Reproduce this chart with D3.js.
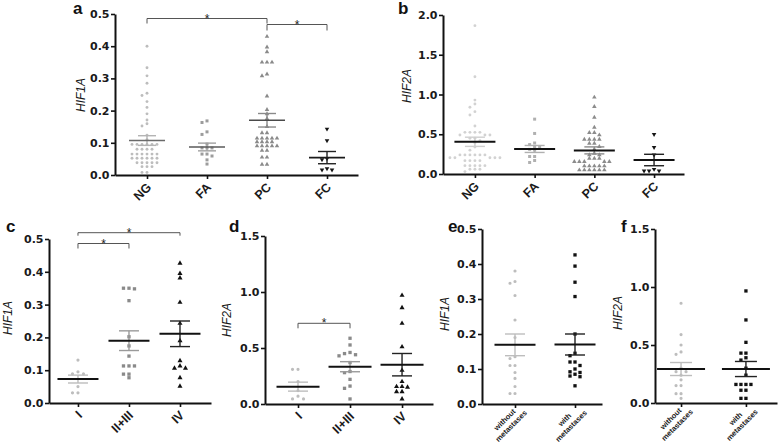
<!DOCTYPE html>
<html><head><meta charset="utf-8">
<script src="https://cdn.jsdelivr.net/npm/d3@7"></script>
<style>body{margin:0;background:#fff}svg{display:block}</style>
</head><body>
<svg id="chart" width="778" height="446"></svg>
<script>
// ---------- DATA ----------
const catsTissue = ["NG", "FA", "PC", "FC"];
const catsStage = ["I", "II+III", "IV"];
const catsMet = ["without\nmetastases", "with\nmetastases"];

// panel a – HIF1A by tissue
const hif1aNG = [0.40, 0.333, 0.308, 0.285, 0.254, 0.247, 0.228, 0.21, 0.19, 0.171, 0.159, 0.152, 0.124, 0.11,
  0.095, 0.095, 0.095, 0.095, 0.095, 0.095, 0.08, 0.08, 0.08, 0.08, 0.065, 0.065, 0.065, 0.065, 0.065, 0.065,
  0.052, 0.052, 0.052, 0.052, 0.052, 0.052, 0.038, 0.038, 0.038, 0.038, 0.038, 0.026, 0.026, 0.026, 0.008, 0.008];
const hif1aFA = [0.168, 0.163, 0.134, 0.126, 0.096, 0.084, 0.084, 0.084, 0.065, 0.065, 0.059, 0.047, 0.034];
const hif1aPC = [0.43, 0.397, 0.382, 0.35, 0.35, 0.35, 0.313, 0.308, 0.245, 0.203, 0.19, 0.175, 0.15,
  0.131, 0.131, 0.114, 0.114, 0.114, 0.114, 0.114, 0.103, 0.103, 0.103, 0.103, 0.09, 0.09, 0.09, 0.09, 0.09,
  0.076, 0.076, 0.055, 0.055, 0.033, 0.033];
const hif1aFC = [0.143, 0.107, 0.051, 0.048, 0.02, 0.016, 0.016];
const meanA = [0.107, 0.087, 0.17, 0.054];
const semA = [0.015, 0.012, 0.021, 0.019];

// panel b – HIF2A by tissue
const hif2aNG = [1.866, 1.224, 0.93, 0.88, 0.839, 0.784, 0.742, 0.604, 0.524, 0.524, 0.524, 0.524, 0.49, 0.49, 0.49,
  0.45, 0.45, 0.42, 0.39, 0.34, 0.3, 0.24, 0.24, 0.24, 0.24, 0.24, 0.24, 0.205, 0.205, 0.205, 0.205, 0.205,
  0.168, 0.168, 0.168, 0.168, 0.105, 0.105, 0.105, 0.105, 0.105, 0.06, 0.06, 0.06, 0.03];
const hif2aFA = [0.69, 0.51, 0.39, 0.37, 0.345, 0.345, 0.31, 0.3, 0.22, 0.22, 0.17, 0.145];
const hif2aPC = [0.965, 0.847, 0.713, 0.587, 0.52, 0.52, 0.49, 0.436, 0.436, 0.436, 0.436, 0.386, 0.386, 0.344, 0.31,
  0.26, 0.24, 0.24, 0.197, 0.197, 0.197, 0.155, 0.155, 0.155, 0.155, 0.155, 0.1, 0.1, 0.1, 0.1, 0.1,
  0.05, 0.05, 0.05, 0.05, 0.05, 0.05];
const hif2aFC = [0.5, 0.336, 0.24, 0.06, 0.04, 0.04, 0.04];
const meanB = [0.405, 0.315, 0.297, 0.176];
const semB = [0.058, 0.044, 0.044, 0.072];

// panel c – HIF1A by stage
const hif1aStI = [0.131, 0.095, 0.089, 0.089, 0.05, 0.031, 0.031];
const hif1aStII = [0.35, 0.35, 0.348, 0.312, 0.202, 0.174, 0.143, 0.113, 0.113, 0.113, 0.088, 0.088, 0.077];
const hif1aStIV = [0.426, 0.395, 0.381, 0.307, 0.243, 0.19, 0.129, 0.113, 0.106, 0.106, 0.077, 0.051];
const meanC = [0.073, 0.19, 0.211];
const semC = [0.012, 0.03, 0.039];

// panel d – HIF2A by stage
const hif2aStI = [0.31, 0.31, 0.2, 0.12, 0.07, 0.045, 0.045];
const hif2aStII = [0.587, 0.527, 0.46, 0.45, 0.44, 0.43, 0.37, 0.29, 0.28, 0.22, 0.16, 0.14, 0.045];
const hif2aStIV = [0.97, 0.86, 0.72, 0.51, 0.3, 0.2, 0.155, 0.155, 0.15, 0.11, 0.11, 0.045];
const meanD = [0.155, 0.333, 0.351];
const semD = [0.04, 0.045, 0.1];

// panel e – HIF1A by metastases
const hif1aNoMet = [0.38, 0.35, 0.345, 0.31, 0.24, 0.19, 0.135, 0.13, 0.11, 0.11, 0.09, 0.073, 0.05, 0.03, 0.03];
const hif1aMet = [0.426, 0.394, 0.348, 0.307, 0.2, 0.145, 0.138, 0.12, 0.12, 0.11, 0.1, 0.092, 0.09, 0.085, 0.08, 0.078, 0.052];
const meanE = [0.169, 0.17];
const semE = [0.031, 0.03];

// panel f – HIF2A by metastases
const hif2aNoMet = [0.86, 0.59, 0.5, 0.44, 0.42, 0.3, 0.27, 0.27, 0.24, 0.2, 0.15, 0.15, 0.08, 0.08, 0.04];
const hif2aMet = [0.966, 0.716, 0.523, 0.43, 0.43, 0.39, 0.37, 0.3, 0.24, 0.16, 0.16, 0.16, 0.16, 0.11, 0.11, 0.04, 0.04];
const meanF = [0.293, 0.293];
const semF = [0.056, 0.065];

const ticksSmall = [0, 0.1, 0.2, 0.3, 0.4, 0.5];
const ticksB = [0, 0.5, 1.0, 1.5, 2.0];
const ticksMid = [0, 0.5, 1.0, 1.5];

// ---------- LAYOUT ----------
const panels = [
  {letter:"a", lx:73, ly:14, ylab:"HIF1A", yx:81, yy:95, cats:catsTissue, series:[hif1aNG,hif1aFA,hif1aPC,hif1aFC],
   mean:meanA, sem:semA, domain:[0,0.5], ticks:ticksSmall, ox:115, x1:358, y0:175, y1:14, pad:0.525, align:0.508,
   shapes:["circle","square","tri","tridown"], fills:["#bdbdbd","#9c9c9c","#8a8a8a","#151515"],
   meanCol:["#6a6a6a","#5a5a5a","#4a4a4a","#1a1a1a"], semCol:["#b4b4b4","#a0a0a0","#8a8a8a","#222"],
   meanW:36, capW:18, meanSW:1.6, step:5, thr:3.4, size:{circle:6.5,square:9,tri:9},
   labelFont:12.5, brackets:[{a:"NG",b:"PC",y:18.5,d:5},{a:"PC",b:"FC",y:24.5,d:6}]},
  {letter:"b", lx:398, ly:14, ylab:"HIF2A", yx:407, yy:86, cats:catsTissue, series:[hif2aNG,hif2aFA,hif2aPC,hif2aFC],
   mean:meanB, sem:semB, domain:[0,2], ticks:ticksB, ox:443, x1:684, y0:174, y1:15, pad:0.518, align:0.516,
   shapes:["circle","square","tri","tridown"], fills:["#d2d2d2","#b0b0b0","#8c8c8c","#151515"],
   meanCol:["#111","#111","#111","#111"], semCol:["#cfcfcf","#b0b0b0","#8c8c8c","#222"],
   meanW:41, capW:20, meanSW:2, step:5, thr:3.4, size:{circle:6.5,square:9,tri:9},
   labelFont:12.5, brackets:[]},
  {letter:"c", lx:6, ly:232, ylab:"HIF1A", yx:8, yy:318, cats:catsStage, series:[hif1aStI,hif1aStII,hif1aStIV],
   mean:meanC, sem:semC, domain:[0,0.5], ticks:ticksSmall, ox:49, x1:211, y0:403, y1:239, pad:0.588, align:0.483,
   shapes:["circle","square","tri"], fills:["#bdbdbd","#8a8a8a","#111"],
   meanCol:["#111","#111","#111"], semCol:["#bdbdbd","#9a9a9a","#222"],
   meanW:41, capW:20, meanSW:2, step:5.5, thr:3.6, size:{circle:8,square:11,tri:11},
   labelFont:12.5, brackets:[{a:"I",b:"IV",y:232.7,d:3},{a:"I",b:"II+III",y:243.5,d:5}]},
  {letter:"d", lx:229, ly:232, ylab:"HIF2A", yx:227, yy:320, cats:catsStage, series:[hif2aStI,hif2aStII,hif2aStIV],
   mean:meanD, sem:semD, domain:[0,1.5], ticks:ticksMid, ox:265, x1:433, y0:404, y1:236, pad:0.615, align:0.516,
   shapes:["circle","square","tri"], fills:["#bdbdbd","#8a8a8a","#111"],
   meanCol:["#111","#111","#111"], semCol:["#bdbdbd","#9a9a9a","#222"],
   meanW:43, capW:20, meanSW:2, step:5.5, thr:3.6, size:{circle:8,square:11,tri:11},
   labelFont:12.5, brackets:[{a:"I",b:"II+III",y:323.3,d:5}]},
  {letter:"e", lx:448, ly:232, ylab:"HIF1A", yx:445, yy:314, cats:catsMet, series:[hif1aNoMet,hif1aMet],
   mean:meanE, sem:semE, domain:[0,0.5], ticks:ticksSmall, ox:482, x1:602, y0:404, y1:229, pad:0.5, align:0.55,
   shapes:["circle","square"], fills:["#bdbdbd","#111"],
   meanCol:["#111","#111"], semCol:["#bdbdbd","#222"],
   meanW:41, capW:20, meanSW:2, step:5, thr:3.6, size:{circle:8,square:11,tri:11},
   labelFont:7.5, brackets:[]},
  {letter:"f", lx:621, ly:232, ylab:"HIF2A", yx:618, yy:313, cats:catsMet, series:[hif2aNoMet,hif2aMet],
   mean:meanF, sem:semF, domain:[0,1.5], ticks:ticksMid, ox:655, x1:777, y0:403, y1:229, pad:0.44, align:0.456,
   shapes:["circle","square"], fills:["#bdbdbd","#111"],
   meanCol:["#111","#111"], semCol:["#bdbdbd","#222"],
   meanW:48, capW:22, meanSW:2, step:5, thr:3.6, size:{circle:8,square:11,tri:11},
   labelFont:7.5, brackets:[]}
];

const svg = d3.select("#chart");
const SANS = "'Liberation Sans', Arial, sans-serif";

function swarm(vals, y, cx, step, thr) {
  const pts = vals.map(v => ({v, py: y(v)})).sort((a, b) => a.py - b.py);
  const placed = [];
  const order = [0];
  for (let k = 1; k < 30; k++) order.push(-k, k);
  pts.forEach(p => {
    for (const k of order) {
      const px = cx + k * step;
      if (!placed.some(q => Math.abs(q.px - px) < step * 0.9 && Math.abs(q.py - p.py) < thr)) {
        p.px = px; placed.push(p); break;
      }
    }
  });
  return placed;
}

function drawPanel(p) {
  const g = svg.append("g");
  const y = d3.scaleLinear().domain(p.domain).range([p.y0, p.y1]);
  const x = d3.scalePoint().domain(p.cats).range([p.ox, p.x1]).padding(p.pad).align(p.align);

  // points
  p.series.forEach((vals, i) => {
    const cx = x(p.cats[i]);
    const pts = swarm(vals, y, cx, p.step, p.thr);
    const shape = p.shapes[i];
    const sym = d3.symbol()
      .type(shape === "circle" ? d3.symbolCircle : shape === "square" ? d3.symbolSquare : d3.symbolTriangle)
      .size(shape === "circle" ? p.size.circle : shape === "square" ? p.size.square : p.size.tri);
    g.append("g").selectAll("path").data(pts).join("path")
      .attr("d", sym)
      .attr("transform", d => `translate(${d.px},${d.py})` + (shape === "tridown" ? " rotate(180)" : ""))
      .attr("fill", p.fills[i]);
  });

  // SEM + mean
  p.cats.forEach((c, i) => {
    const cx = x(c);
    const m = p.mean[i], s = p.sem[i];
    const eg = g.append("g").attr("stroke", p.semCol[i]).attr("stroke-width", 1.4).attr("fill", "none");
    eg.append("line").attr("x1", cx).attr("x2", cx).attr("y1", y(m + s)).attr("y2", y(m - s));
    [m + s, m - s].forEach(v => eg.append("line")
      .attr("x1", cx - p.capW / 2).attr("x2", cx + p.capW / 2).attr("y1", y(v)).attr("y2", y(v)));
    g.append("line").attr("x1", cx - p.meanW / 2).attr("x2", cx + p.meanW / 2)
      .attr("y1", y(m)).attr("y2", y(m)).attr("stroke", p.meanCol[i]).attr("stroke-width", p.meanSW);
  });

  // y axis
  const gy = g.append("g").attr("transform", `translate(${p.ox},0)`)
    .call(d3.axisLeft(y).tickValues(p.ticks).tickFormat(d3.format(".1f")).tickSize(4).tickSizeOuter(0).tickPadding(1.5));
  gy.select(".domain").attr("stroke", "#111").attr("stroke-width", 2);
  gy.selectAll(".tick line").attr("stroke", "#111").attr("stroke-width", 1.6);
  gy.selectAll(".tick text").attr("font-family", "'DejaVu Sans', sans-serif").attr("font-weight", "bold")
    .attr("font-size", 11).attr("fill", "#1a1a1a");

  // x axis
  const gx = g.append("g").attr("transform", `translate(0,${p.y0})`)
    .call(d3.axisBottom(x).tickSize(4).tickSizeOuter(0).tickFormat(""));
  gx.select(".domain").attr("stroke", "#111").attr("stroke-width", 2);
  gx.selectAll(".tick line").attr("stroke", "#111").attr("stroke-width", 1.6);

  // category labels
  p.cats.forEach(c => {
    const cx = x(c);
    const lines = c.split("\n");
    if (lines.length === 1) {
      g.append("text").attr("transform", `translate(${cx + 5},${p.y0 + 13}) rotate(-45)`)
        .attr("text-anchor", "end").attr("font-family", SANS).attr("font-weight", "bold")
        .attr("font-size", p.labelFont).attr("fill", "#1a1a1a").text(c);
    } else {
      const t = g.append("text").attr("transform", `translate(${cx + 6},${p.y0 + 3}) rotate(-45)`)
        .attr("text-anchor", "middle").attr("font-family", SANS).attr("font-weight", "bold")
        .attr("font-size", p.labelFont).attr("fill", "#1a1a1a");
      const tmp = t.append("tspan").text(lines[1]);
      const w = tmp.node().getComputedTextLength();
      tmp.remove();
      lines.forEach((ln, k) => t.append("tspan").attr("x", -w / 2).attr("y", k * 9).text(ln));
    }
  });

  // brackets
  p.brackets.forEach(b => {
    const xa = x(b.a), xb = x(b.b);
    g.append("path").attr("d", `M${xa},${b.y + b.d}V${b.y}H${xb}V${b.y + b.d}`)
      .attr("fill", "none").attr("stroke", "#555").attr("stroke-width", 1);
    g.append("text").attr("x", (xa + xb) / 2).attr("y", b.y + 4).attr("text-anchor", "middle")
      .attr("font-family", SANS).attr("font-size", 12).attr("fill", "#222").text("*");
  });

  // y label
  g.append("text").attr("transform", `translate(${p.yx},${p.yy}) rotate(-90)`)
    .attr("text-anchor", "middle").attr("dominant-baseline", "central")
    .attr("font-family", SANS).attr("font-style", "italic").attr("font-size", 12).attr("fill", "#1a1a1a")
    .text(p.ylab);

  // panel letter
  g.append("text").attr("x", p.lx).attr("y", p.ly).attr("font-family", SANS).attr("font-weight", "bold")
    .attr("font-size", 17).attr("fill", "#111").text(p.letter);
}

panels.forEach(drawPanel);
</script>
</body></html>
